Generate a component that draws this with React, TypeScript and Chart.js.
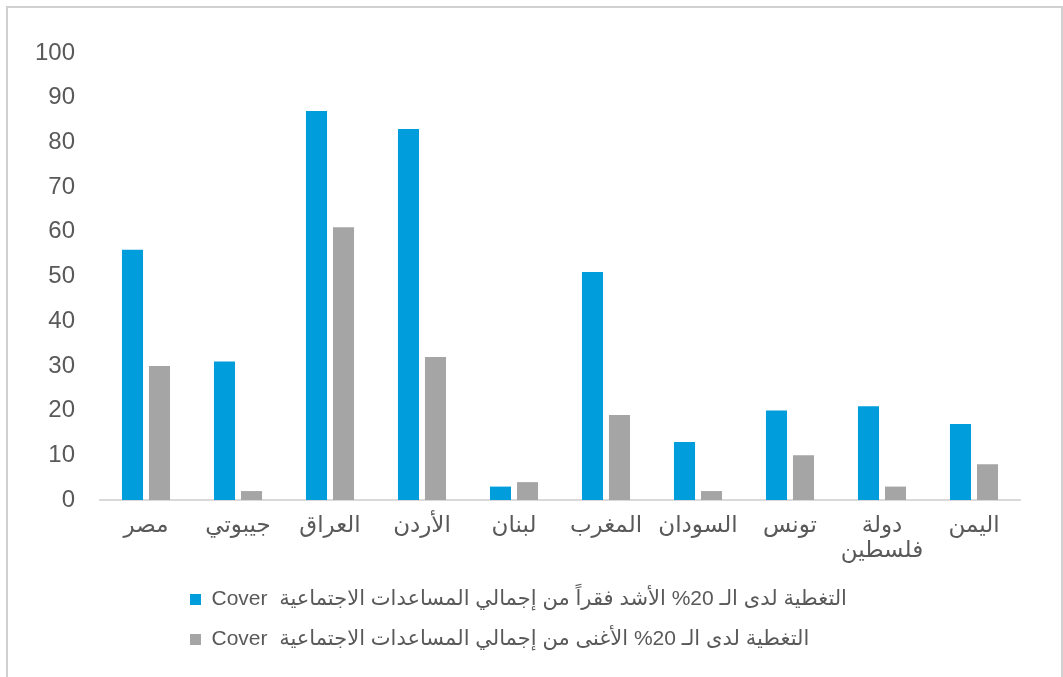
import React, { useEffect, useRef } from 'react';
import { Chart, registerables } from 'chart.js';

Chart.register(...registerables);

const countries: (string | string[])[] = [
  'مصر',
  'جيبوتي',
  'العراق',
  'الأردن',
  'لبنان',
  'المغرب',
  'السودان',
  'تونس',
  ['دولة', 'فلسطين'],
  'اليمن',
];
const poorestCoverage = [56, 31, 87, 83, 3, 51, 13, 20, 21, 17];
const richestCoverage = [30, 2, 61, 32, 4, 19, 2, 10, 3, 8];
const seriesNames = [
  'Cover  التغطية لدى الـ 20% الأشد فقراً من إجمالي المساعدات الاجتماعية',
  'Cover  التغطية لدى الـ 20% الأغنى من إجمالي المساعدات الاجتماعية',
];
const yMin = 0;
const yMax = 100;
const yStep = 10;

const FONT = "'Liberation Sans', 'DejaVu Sans', Arial, sans-serif";
const TEXT = '#595959';

const legendLeftAlign = {
  id: 'legendLeftAlign',
  beforeDraw(chart: any) {
    const lg = chart.legend;
    if (!lg || !lg.lineWidths || !lg.lineWidths.length) return;
    const pad = lg.options.labels.padding;
    const targetX = 182;
    const w = lg.left + pad + lg.right - 2 * targetX;
    lg.lineWidths = lg.lineWidths.map(() => w);
  },
};

export default function App() {
  const ref = useRef<HTMLCanvasElement | null>(null);

  useEffect(() => {
    if (!ref.current) return;
    const chart = new Chart(ref.current, {
      type: 'bar',
      data: {
        labels: countries,
        datasets: [
          {
            label: seriesNames[0],
            data: poorestCoverage,
            backgroundColor: '#009DDC',
            borderWidth: 0,
            categoryPercentage: 0.587,
            barPercentage: 0.78,
          },
          {
            label: seriesNames[1],
            data: richestCoverage,
            backgroundColor: '#A5A5A5',
            borderWidth: 0,
            categoryPercentage: 0.587,
            barPercentage: 0.78,
          },
        ],
      },
      options: {
        responsive: false,
        animation: false,
        devicePixelRatio: 1,
        layout: { padding: { top: 45, right: 41, bottom: 44, left: 0 } },
        plugins: {
          legend: {
            position: 'bottom',
            align: 'center',
            labels: {
              boxWidth: 11,
              boxHeight: 11,
              padding: 19,
              color: TEXT,
              font: { family: FONT, size: 21 },
            },
          },
          tooltip: { enabled: false },
        },
        scales: {
          x: {
            grid: { display: false, drawTicks: false },
            border: { display: true, color: '#d9d9d9', width: 2 },
            ticks: {
              color: TEXT,
              padding: 13,
              maxRotation: 0,
              autoSkip: false,
              font: { family: FONT, size: 23, lineHeight: 1.1 },
            },
            afterFit(scale: any) {
              scale.height = 70;
            },
          },
          y: {
            min: yMin,
            max: yMax,
            grid: { display: false, drawTicks: false },
            border: { display: false },
            ticks: {
              stepSize: yStep,
              color: TEXT,
              padding: 25,
              font: { family: FONT, size: 24 },
            },
            afterFit(scale: any) {
              scale.width = 92;
            },
          },
        },
      },
      plugins: [legendLeftAlign],
    });
    return () => chart.destroy();
  }, []);

  return (
    <div
      style={{
        position: 'fixed',
        left: 6,
        top: 6,
        width: 1057,
        height: 700,
        border: '2px solid #d0d0d0',
        boxSizing: 'border-box',
        background: '#ffffff',
      }}
    >
      <canvas ref={ref} width={1053} height={696} style={{ display: 'block' }} />
    </div>
  );
}
